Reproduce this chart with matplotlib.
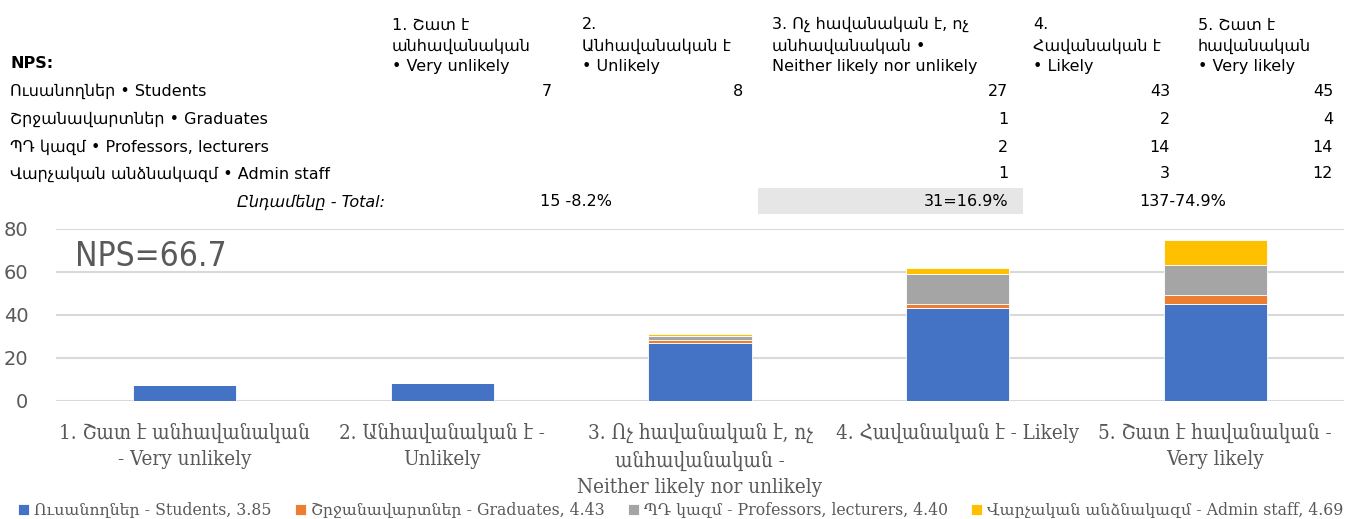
import matplotlib.pyplot as plt
import numpy as np

# data
categories = ['1. Շատ է անհավանական\n- Very unlikely',
              '2. Անհավանական է -\nUnlikely',
              '3. Ոչ հավանական է, ոչ\nանհավանական -\nNeither likely nor unlikely',
              '4. Հավանական է - Likely',
              '5. Շատ է հավանական -\nVery likely']
students = [7, 8, 27, 43, 45]
graduates = [0, 0, 1, 2, 4]
professors = [0, 0, 2, 14, 14]
admin = [0, 0, 1, 3, 12]
series_names = ['Ուսանողներ - Students, 3.85', 'Շրջանավարտներ - Graduates, 4.43',
                'ՊԴ կազմ - Professors, lecturers, 4.40', 'Վարչական անձնակազմ - Admin staff, 4.69']
colors = ['#4472C4', '#ED7D31', '#A5A5A5', '#FFC000']

table_headers = ['1. Շատ է\nանհավանական\n• Very unlikely',
                 '2.\nԱնհավանական է\n• Unlikely',
                 '3. Ոչ հավանական է, ոչ\nանհավանական •\nNeither likely nor unlikely',
                 '4.\nՀավանական է\n• Likely',
                 '5. Շատ է\nհավանական\n• Very likely']
row_labels = ['Ուսանողներ • Students', 'Շրջանավարտներ • Graduates',
              'ՊԴ կազմ • Professors, lecturers', 'Վարչական անձնակազմ • Admin staff']
total_label = 'Ընդամենը - Total:'
totals = ['15 -8.2%', '31=16.9%', '137-74.9%']
nps_text = 'NPS=66.7'

W, H = 1356, 519
fig = plt.figure(figsize=(W / 100, H / 100), dpi=100)


def px(x, y):
    return x / W, 1 - y / H


sans = 'DejaVu Sans'
fs_tab = 11.5

# ---- table on top ----
fig.text(*px(10, 64), 'NPS:', fontsize=fs_tab, fontweight='bold', family=sans, va='center')
head_x = [392, 582, 772, 1033, 1198]
val_x = [552, 743, 1008, 1170, 1333]
for hx, h in zip(head_x, table_headers):
    fig.text(*px(hx, 74), h, fontsize=fs_tab, family=sans, va='bottom', ha='left',
             linespacing=1.45)

row_y = [91, 119, 147, 174]
rows = [students, graduates, professors, admin]
for ry, lab, vals in zip(row_y, row_labels, rows):
    fig.text(*px(10, ry), lab, fontsize=fs_tab, family=sans, va='center')
    for vx, v in zip(val_x, vals):
        if v:
            fig.text(*px(vx, ry), str(v), fontsize=fs_tab, family=sans, va='center', ha='right')

fig.text(*px(385, 202), total_label, fontsize=fs_tab, family=sans, va='center', ha='right',
         style='italic')
fig.patches.append(plt.Rectangle(px(758, 214), 265 / W, 26 / H, transform=fig.transFigure,
                                 facecolor='#E7E6E6', edgecolor='none', zorder=0))
fig.text(*px(576, 202), totals[0], fontsize=fs_tab, family=sans, va='center', ha='center')
fig.text(*px(1008, 202), totals[1], fontsize=fs_tab, family=sans, va='center', ha='right')
fig.text(*px(1183, 202), totals[2], fontsize=fs_tab, family=sans, va='center', ha='center')

# ---- chart ----
ax = fig.add_axes([56 / W, 1 - 400.5 / H, 1288 / W, 171.5 / H])
x = np.arange(len(categories))
bottom = np.zeros(len(categories))
for vals, name, c in zip(rows, series_names, colors):
    ax.bar(x, vals, 0.4, bottom=bottom, color=c, label=name, edgecolor='white', linewidth=0.6, zorder=3)
    bottom += np.array(vals)

ax.set_xlim(-0.5, 4.5)
ax.set_ylim(0, 80)
ax.set_yticks([0, 20, 40, 60, 80])
ax.grid(axis='y', color='#D9D9D9', linewidth=1.5, zorder=0)
for s in ax.spines.values():
    s.set_visible(False)
ax.tick_params(axis='both', length=0, colors='#595959')
ax.tick_params(axis='y', labelsize=14, pad=20)
ax.set_xticks(x)
ax.set_xticklabels(categories, fontsize=14.8, family='DejaVu Serif', color='#595959',
                   linespacing=1.5, stretch='condensed')
ax.tick_params(axis='x', pad=16)

ax.text(75 / 1288 * 5 - 0.5 - 56 / 1288 * 5, 67, nps_text, fontsize=24, color='#595959',
        family=sans, va='center', ha='left', stretch='condensed')

leg = fig.legend(loc='lower left', bbox_to_anchor=(12 / W, -0.012), ncol=4, frameon=False,
                 fontsize=11.3, handlelength=0.7, handleheight=0.7, handletextpad=0.3,
                 columnspacing=1.5, borderaxespad=0)
for t in leg.get_texts():
    t.set_color('#595959')
    t.set_family('DejaVu Serif')

fig.savefig('out.png', dpi=100)
